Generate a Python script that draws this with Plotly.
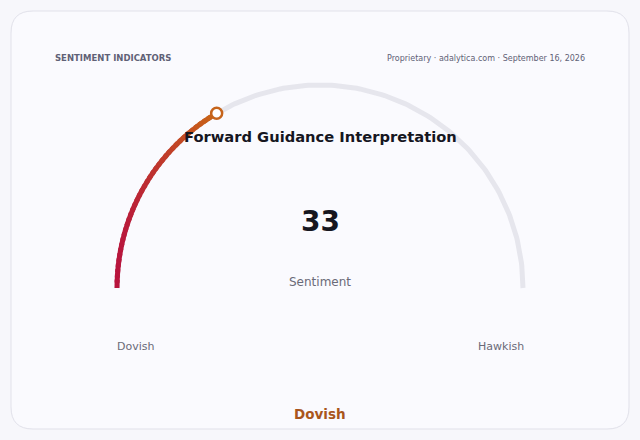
import numpy as np
import plotly.graph_objects as go

# gauge data
gauge_value = 33
gauge_min = 0
gauge_max = 100
end_labels = ["Dovish", "Hawkish"]
value_label = "Sentiment"
reading_label = "Dovish"

header_left = "SENTIMENT INDICATORS"
header_right = "Proprietary · adalytica.com · September 16, 2026"
chart_title = "Forward Guidance Interpretation"

W, H = 640, 440
CX, CY, R = 320, 288, 203   # gauge centre / radius in pixels
FONT = "DejaVu Sans"

start_rgb = np.array([184, 20, 62])
end_rgb = np.array([202, 104, 22])


def to_angle(v):
    frac = (v - gauge_min) / (gauge_max - gauge_min)
    return np.pi * (1 - frac)


def arc_xy(v0, v1, n):
    a = np.linspace(to_angle(v0), to_angle(v1), n)
    return np.cos(a), np.sin(a)


def px(x):
    return x / W


def py(y):
    return 1 - y / H


fig = go.Figure()

# background track
tx, ty = arc_xy(gauge_min, gauge_max, 200)
fig.add_trace(go.Scatter(x=tx, y=ty, mode="lines",
                         line=dict(color="#e6e6ed", width=5),
                         hoverinfo="skip", showlegend=False))

# value arc, drawn as short overlapping pieces so it fades from red to orange
# (fade runs left to right, like a horizontal gradient over the arc)
n_seg = 40
steps = np.linspace(gauge_min, gauge_value, n_seg + 1)
step = steps[1] - steps[0]
x_lo = np.cos(to_angle(gauge_min))
x_hi = np.cos(to_angle(gauge_value))
for i in range(n_seg):
    mid = (steps[i] + steps[i + 1]) / 2
    t = (np.cos(to_angle(mid)) - x_lo) / (x_hi - x_lo)
    c = (start_rgb + (end_rgb - start_rgb) * t).astype(int)
    s_end = min(steps[i + 1] + step * 0.6, gauge_value)
    sx, sy = arc_xy(steps[i], s_end, 6)
    fig.add_trace(go.Scatter(x=sx, y=sy, mode="lines",
                             line=dict(color="rgb(%d,%d,%d)" % tuple(c), width=5),
                             hoverinfo="skip", showlegend=False))

# end marker
mx, my = arc_xy(gauge_value, gauge_value, 1)
fig.add_trace(go.Scatter(x=mx, y=my, mode="markers",
                         marker=dict(size=11, color="#ffffff",
                                     line=dict(color="#c6641b", width=2.5)),
                         hoverinfo="skip", showlegend=False))

# rounded card
x0, x1, y0, y1 = px(11), px(629), py(429), py(11)
rx, ry = 22 / W, 22 / H
card = (f"M {x0+rx} {y0} L {x1-rx} {y0} Q {x1} {y0} {x1} {y0+ry} "
        f"L {x1} {y1-ry} Q {x1} {y1} {x1-rx} {y1} "
        f"L {x0+rx} {y1} Q {x0} {y1} {x0} {y1-ry} "
        f"L {x0} {y0+ry} Q {x0} {y0} {x0+rx} {y0} Z")

annotations = [
    dict(x=px(53), y=py(58), text="<b>" + header_left + "</b>", xanchor="left",
         font=dict(size=8.5, color="#5f6176")),
    dict(x=px(587), y=py(58), text=header_right, xanchor="right",
         font=dict(size=8, color="#5f6176")),
    dict(x=px(320), y=py(137), text="<b>" + chart_title + "</b>",
         font=dict(size=14.7, color="#16161f")),
    dict(x=px(320), y=py(221), text="<b>%d</b>" % gauge_value,
         font=dict(size=28, color="#16161f")),
    dict(x=px(320), y=py(282), text=value_label,
         font=dict(size=12, color="#6a6a78")),
    dict(x=px(135), y=py(346), text=end_labels[0],
         font=dict(size=11, color="#6a6a78")),
    dict(x=px(501), y=py(346), text=end_labels[1],
         font=dict(size=11, color="#6a6a78")),
    dict(x=px(320), y=py(414), text="<b>" + reading_label + "</b>",
         font=dict(size=13.5, color="#a9561c")),
]
for a in annotations:
    a.setdefault("xanchor", "center")
    a.update(xref="paper", yref="paper", showarrow=False, yanchor="middle")
    a["font"]["family"] = FONT

fig.update_layout(
    width=W, height=H,
    margin=dict(l=0, r=0, t=0, b=0),
    paper_bgcolor="#f7f7fb",
    plot_bgcolor="rgba(0,0,0,0)",
    font=dict(family=FONT),
    xaxis=dict(range=[-CX / R, (W - CX) / R], visible=False, fixedrange=True),
    yaxis=dict(range=[-(H - CY) / R, CY / R], visible=False, fixedrange=True),
    shapes=[dict(type="path", path=card, xref="paper", yref="paper",
                 fillcolor="#fafafe", line=dict(color="#e1e1ea", width=1),
                 layer="below")],
    annotations=annotations,
)

fig.write_html("out.html", config={"displayModeBar": False},
               post_script="document.body.style.margin='0';"
                           "document.body.style.background='#f7f7fb';")
